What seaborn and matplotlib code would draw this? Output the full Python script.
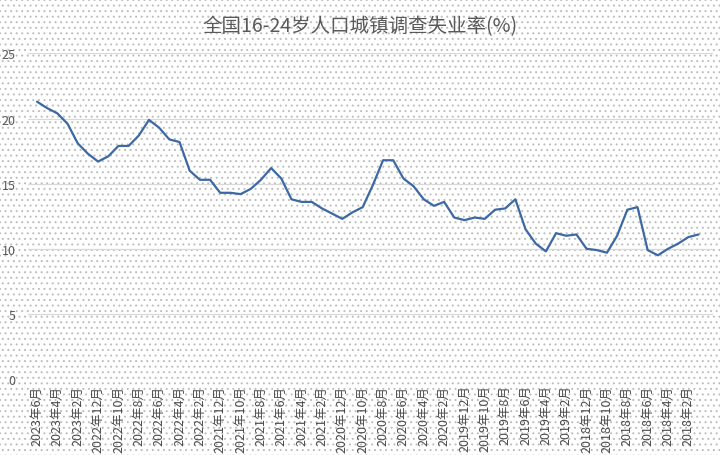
import matplotlib
matplotlib.use("Agg")
import matplotlib.pyplot as plt
from matplotlib.patches import Rectangle
import seaborn as sns
import pandas as pd

# ---- data (newest first, as in the chart) ----
periods = pd.period_range("2018-01", "2023-06", freq="M")[::-1]
month_labels = [f"{p.year}年{p.month}月" for p in periods]

rate = [21.3, 20.8, 20.4, 19.6, 18.1, 17.3,
        16.7, 17.1, 17.9, 17.9, 18.7, 19.9, 19.3, 18.4, 18.2, 16.0, 15.3, 15.3,
        14.3, 14.3, 14.2, 14.6, 15.3, 16.2, 15.4, 13.8, 13.6, 13.6, 13.1, 12.7,
        12.3, 12.8, 13.2, 14.9, 16.8, 16.8, 15.4, 14.8, 13.8, 13.3, 13.6, 12.4,
        12.2, 12.4, 12.3, 13.0, 13.1, 13.8, 11.5, 10.4, 9.8, 11.2, 11.0, 11.1,
        10.0, 9.9, 9.7, 11.0, 13.0, 13.2, 9.9, 9.5, 10.0, 10.4, 10.9, 11.1]

y_ticks = [0, 5, 10, 15, 20, 25]
title = "全国16-24岁人口城镇调查失业率(%)"

df = pd.DataFrame({"pos": range(len(rate)), "month": month_labels, "rate": rate})

sns.set_theme(style="white")
plt.rcParams["font.family"] = ["Noto Sans CJK SC", "DejaVu Sans"]
plt.rcParams["hatch.linewidth"] = 0.7

fig = plt.figure(figsize=(7.2, 4.56), dpi=100)
bg = Rectangle((0, 0), 1, 1, transform=fig.transFigure, facecolor="white",
               edgecolor="#bdbdbd", hatch="...", linewidth=0, zorder=-10)
fig.patches.append(bg)

ax = fig.add_axes([0.039, 0.1667, 0.951, 0.7138])
ax.patch.set_alpha(0)

sns.lineplot(data=df, x="pos", y="rate", ax=ax, color="#3c68a4", linewidth=1.6)

ax.set_ylim(0, 25)
ax.set_yticks(y_ticks)
ax.set_yticklabels([str(v) for v in y_ticks])
ax.set_xlim(-0.88, 66.4)
tick_pos = list(range(0, 65, 2))
ax.set_xticks(tick_pos)
ax.set_xticklabels([month_labels[i] for i in tick_pos], rotation=90, fontsize=9,
                   color="#4a4a4a")
ax.tick_params(axis="y", length=0, pad=9, labelsize=9, labelcolor="#595959")
ax.tick_params(axis="x", length=0, pad=4)
ax.set_xlabel("")
ax.set_ylabel("")
ax.grid(axis="y", color="#d9d9d9", linewidth=0.9)
ax.grid(axis="x", visible=False)
for s in ax.spines.values():
    s.set_visible(False)

fig.text(0.5, 1 - 27 / 456, title, ha="center", va="center", fontsize=14,
         color="#595959")

fig.savefig("out.png", dpi=100)
